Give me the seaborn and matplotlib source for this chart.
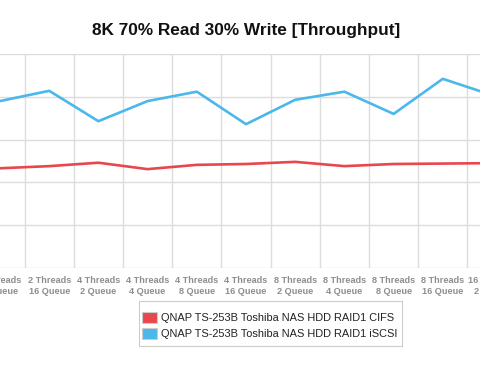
import matplotlib
matplotlib.use("Agg")
import matplotlib.pyplot as plt
import seaborn as sns
import pandas as pd
from matplotlib.patches import Patch, Rectangle

categories = [
    "2 Threads\n8 Queue", "2 Threads\n16 Queue", "4 Threads\n2 Queue", "4 Threads\n4 Queue",
    "4 Threads\n8 Queue", "4 Threads\n16 Queue", "8 Threads\n2 Queue", "8 Threads\n4 Queue",
    "8 Threads\n8 Queue", "8 Threads\n16 Queue", "16 Threads\n2 Queue",
]
cifs = [23.3, 23.8, 24.6, 23.1, 24.1, 24.3, 24.8, 23.8, 24.3, 24.4, 24.5]
iscsi = [39.0, 41.4, 34.3, 39.0, 41.2, 33.6, 39.3, 41.2, 36.0, 44.2, 40.4]
series_names = ["QNAP TS-253B Toshiba NAS HDD RAID1 CIFS", "QNAP TS-253B Toshiba NAS HDD RAID1 iSCSI"]
colors = ["#e8474d", "#4cb7eb"]

df = pd.DataFrame({
    "pos": list(range(len(categories))) * 2,
    "value": cifs + iscsi,
    "series": [series_names[0]] * len(categories) + [series_names[1]] * len(categories),
})

sns.set_theme(style="white")
plt.rcParams["font.family"] = ["Liberation Sans", "DejaVu Sans"]

W, H = 480, 368
step = 49.2            # pixels per category
x0, x1 = -0.6, 10.6    # view limits in category units (axes wider than the figure)
fig = plt.figure(figsize=(4.8, 3.68), dpi=100)
ax = fig.add_axes([x0 * step / W, (H - 268) / H, (x1 - x0) * step / W, (268 - 54) / H])

sns.lineplot(data=df, x="pos", y="value", hue="series", palette=colors,
             linewidth=1.9, ax=ax, legend=False, zorder=3)

ax.set_yticks([0, 10, 20, 30, 40, 50])
ax.set_yticklabels([])
ax.set_xticks(range(len(categories)))
ax.set_xticklabels(categories, fontsize=6.6, color="#8e8e8e", fontweight="bold", linespacing=1.3)
ax.set_xticks([i + 0.5 for i in range(-1, len(categories))], minor=True)
ax.set_xlim(x0, x1)
ax.set_ylim(0, 50)
ax.tick_params(axis="x", which="both", length=0, pad=5.5)
ax.tick_params(axis="y", length=0)
ax.grid(False)
ax.grid(axis="x", which="minor", color="#dcdcdc", linewidth=1.0)
ax.grid(axis="y", which="major", color="#dcdcdc", linewidth=1.0)
for s in ax.spines.values():
    s.set_visible(False)
ax.set_xlabel("")
ax.set_ylabel("")

fig.text(246 / W, 1 - 30 / H, "8K 70% Read 30% Write [Throughput]", ha="center", va="center",
         fontsize=12.4, fontweight="bold", color="#111111")

handles = [Patch(facecolor=c, edgecolor="#cccccc", linewidth=0.8) for c in colors]
leg = fig.legend(handles, series_names, loc="center", bbox_to_anchor=(270 / W, 1 - 325.5 / H),
                 fontsize=7.9, frameon=False,
                 handlelength=1.3, handleheight=1.2, handletextpad=0.4, labelspacing=0.4,
                 borderpad=0.3, labelcolor="#222222")
fig.patches.append(Rectangle((139 / W, 1 - 346 / H), (402 - 139) / W, 45 / H,
                             transform=fig.transFigure, facecolor="none",
                             edgecolor="#cccccc", linewidth=0.8))

fig.savefig("out.png", dpi=100)
